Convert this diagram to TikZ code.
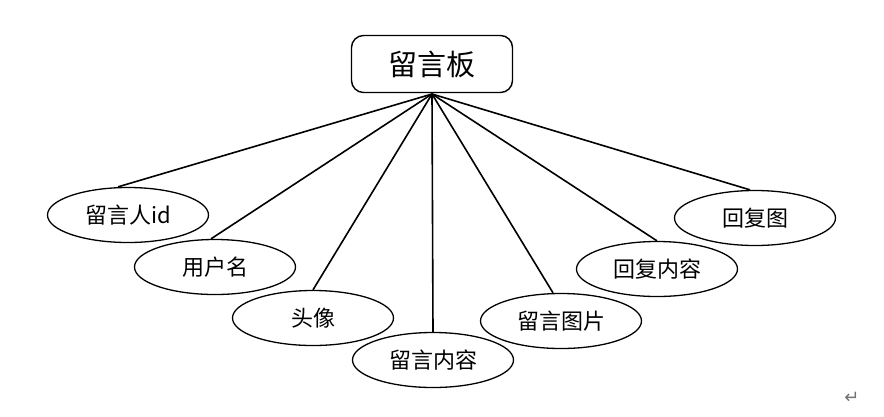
\documentclass[tikz,border=0pt]{standalone}
\usepackage{fontspec}
\setmainfont{Noto Sans CJK SC}
\newfontfamily\symfont{DejaVu Sans}
\usetikzlibrary{shapes.geometric}
\tikzstyle{board} = [rectangle, rounded corners=12pt, text centered, draw=black, line width=1.4pt, minimum width=161pt, minimum height=57pt, font=\fontsize{29}{32}\selectfont]
\tikzstyle{field} = [ellipse, text centered, draw=black, line width=1.3pt, minimum width=161pt, minimum height=55pt, inner sep=0pt, font=\fontsize{22}{25}\selectfont]
\tikzstyle{link} = [line width=1.6pt]

\begin{document}
\begin{tikzpicture}[x=1pt, y=-1pt]
    \useasboundingbox (0,0) rectangle (884,416);
    \node (board) [board] at (432,64) {留言板};
    \coordinate (apex) at (432,94);

    \node (poster) [field] at (128,215) {留言人id};
    \node (user) [field] at (215,267) {用户名};
    \node (avatar) [field] at (313,318) {头像};
    \node (content) [field] at (433,360) {留言内容};
    \node (image) [field] at (561,321) {留言图片};
    \node (reply) [field] at (657,269) {回复内容};
    \node (replyimg) [field] at (755,218) {回复图};

    \draw [link] (apex) -- ([xshift=-10pt]poster.north);
    \draw [link] (apex) -- ([xshift=-4pt]user.north);
    \draw [link] (apex) -- (avatar.north);
    \draw [link] (apex) -- (content.north);
    \draw [link] (apex) -- ([xshift=-8pt]image.north);
    \draw [link] (apex) -- (reply.north);
    \draw [link] (apex) -- ([xshift=-5pt]replyimg.north);

    \node (mark) [text=black!55, font=\symfont\fontsize{18}{18}\selectfont] at (852,398) {↵};
  \end{tikzpicture}
\end{document}
